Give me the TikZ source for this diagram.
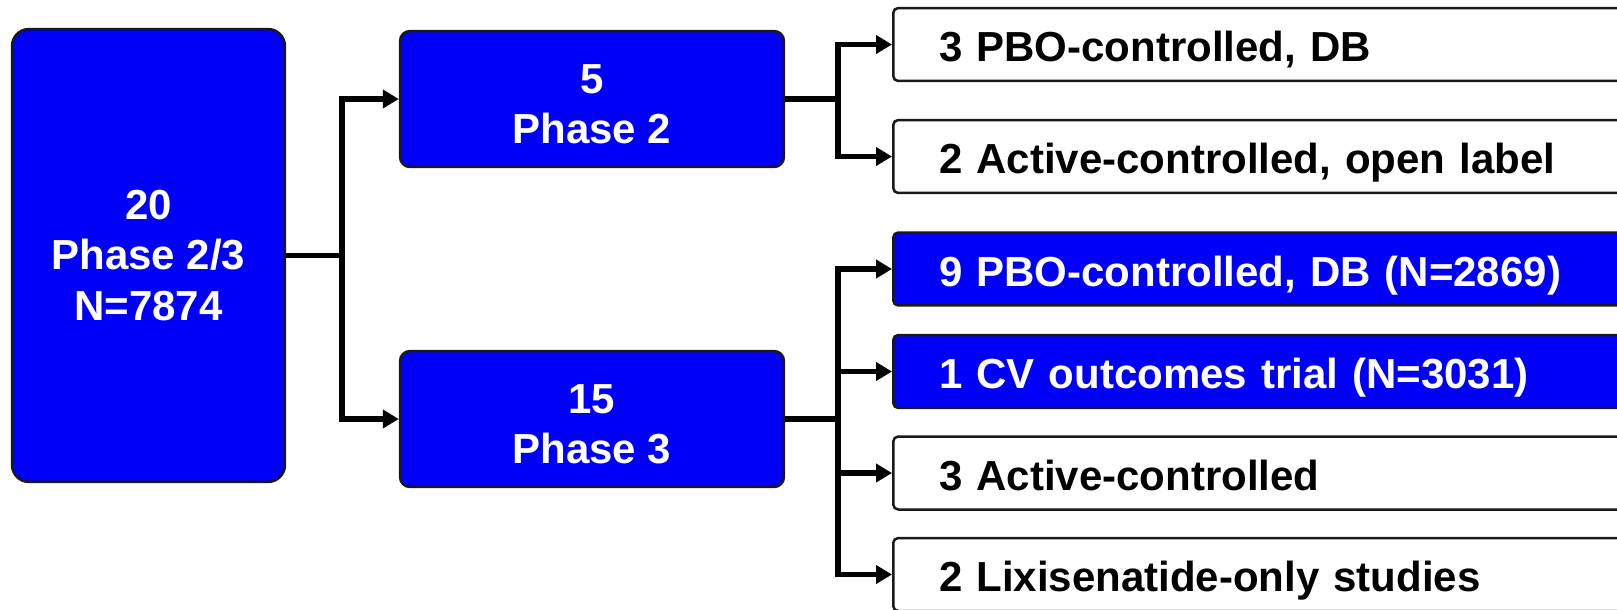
\documentclass[tikz,border=0pt]{standalone}
\usepackage{fontspec}
\setmainfont{Liberation Sans}
\usetikzlibrary{arrows.meta}
\definecolor{trialblue}{RGB}{0, 0, 250}
\definecolor{trialdark}{RGB}{25, 25, 25}

\begin{document}
\begin{tikzpicture}[x=0.02cm, y=-0.02cm,
    box/.style={draw=trialdark, line width=0.05cm, font=\fontsize{23.9}{29}\selectfont\bfseries, inner sep=0pt},
    bluebox/.style={box, fill=trialblue, text=white, align=center},
    phasebox/.style={bluebox, minimum width=7.68cm, minimum height=2.72cm, rounded corners=0.2cm, text height=1.8cm, text depth=0cm},
    armbox/.style={box, anchor=west, minimum height=1.46cm, text width=13.32cm, align=left, inner xsep=0.92cm, rounded corners=0.1cm, text height=0.68cm, text depth=0cm},
    conn/.style={line width=0.11cm, -{Triangle[length=0.32cm,width=0.36cm]}}]
    % Page frame
    \clip (0,0) rectangle (1617,609);

    % All studies
    \node[bluebox, minimum width=5.46cm, minimum height=9.06cm, rounded corners=0.34cm] (total) at (148.5,255.5) {20\\Phase 2/3\\N=7874};

    % Phase boxes
    \node[phasebox] (ph2) at (592,99) {5\\Phase 2};
    \node[phasebox] (ph3) at (592,419) {15\\Phase 3};

    % Phase 2 studies
    \node[armbox, fill=white] (ph2a) at (892,44.5) {3 PBO-controlled, DB};
    \node[armbox, fill=white] (ph2b) at (892,156.5) {2 Active-controlled, open label};

    % Phase 3 studies
    \node[armbox, fill=trialblue, text=white] (ph3a) at (892,269) {9 PBO-controlled, DB (N=2869)};
    \node[armbox, fill=trialblue, text=white] (ph3b) at (892,371.5) {1 CV outcomes trial (N=3031)};
    \node[armbox, fill=white] (ph3c) at (892,473) {3 Active-controlled};
    \node[armbox, fill=white] (ph3d) at (892,574.5) {2 Lixisenatide-only studies};

    % Connectors
    \coordinate (split1) at ([xshift=1.12cm]total.east);
    \draw[conn] (total.east) -- (split1) |- (ph2.west);
    \draw[conn] (split1) |- (ph3.west);

    \coordinate (split2) at ([xshift=1.06cm]ph2.east);
    \draw[conn] (ph2.east) -- (split2) |- (ph2a.west);
    \draw[conn] (split2) |- (ph2b.west);

    \coordinate (split3) at ([xshift=1.06cm]ph3.east);
    \draw[conn] (ph3.east) -- (split3) |- (ph3a.west);
    \foreach \arm in {ph3b,ph3c,ph3d}
        \draw[conn] (split3) |- (\arm.west);
\end{tikzpicture}
\end{document}
